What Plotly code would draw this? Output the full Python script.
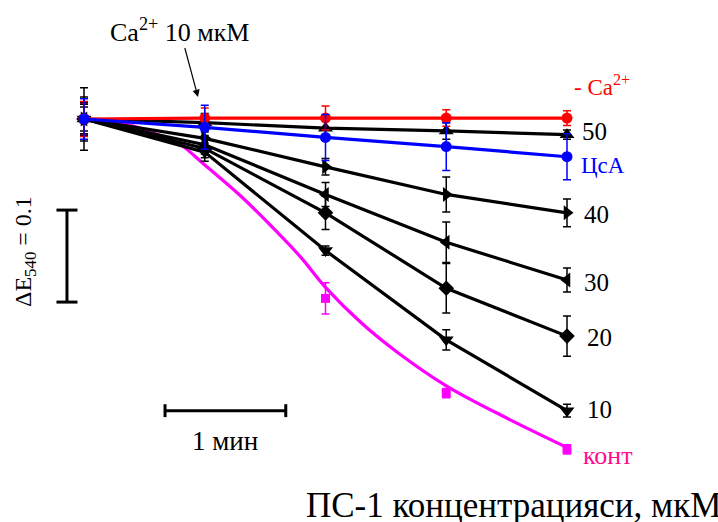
import plotly.graph_objects as go

# Time points (min) and absorbance change ΔE540 for each PS-1 concentration
time_min = [0, 1, 2, 3, 4]

no_ca = [0.0, 0.001, 0.001, 0.001, 0.001]
no_ca_err = [0.019, 0.011, 0.013, 0.009, 0.008]

c50 = [0.0, -0.004, -0.010, -0.013, -0.017]
c50_err = [0.034, 0.010, 0.013, 0.009, 0.005]

csa = [0.0, -0.009, -0.020, -0.030, -0.041]
csa_err = [0.022, 0.024, 0.025, 0.026, 0.025]

c40 = [0.0, -0.021, -0.052, -0.082, -0.102]
c40_err = [0.018, 0.010, 0.009, 0.019, 0.015]

c30 = [0.0, -0.028, -0.082, -0.134, -0.175]
c30_err = [0.013, 0.010, 0.013, 0.022, 0.013]

c20 = [0.0, -0.032, -0.102, -0.184, -0.236]
c20_err = [0.016, 0.010, 0.018, 0.027, 0.022]

c10 = [0.0, -0.036, -0.143, -0.240, -0.317]
c10_err = [0.024, 0.010, 0.005, 0.011, 0.007]

# control: measured points and the fitted smooth curve
control_t = [0, 2, 3, 4]
control = [0.0, -0.195, -0.298, -0.359]
control_err = [0.017, 0.017, 0.005, 0.005]

control_fit_t = [0, 0.3, 0.63, 0.8, 1.0, 1.3, 1.6, 1.8, 2.0, 2.3, 2.6, 3.0, 3.5, 4.0]
control_fit = [0.0, -0.004, -0.018, -0.028, -0.050, -0.084, -0.123, -0.151,
               -0.183, -0.222, -0.254, -0.290, -0.325, -0.357]

SERIF = "Liberation Serif, Times New Roman, serif"
BLACK = "#000000"
RED = "#FF0000"
BLUE = "#0000FF"
MAGENTA = "#FF00FF"
PINK = "#FF0A8C"

fig = go.Figure()


def add_series(x, y, err, color, symbol, line=True, size=10):
    fig.add_trace(go.Scatter(
        x=x, y=y,
        mode="lines+markers" if line else "markers",
        line=dict(color=color, width=3.2),
        marker=dict(symbol=symbol, size=size, color=color),
        error_y=dict(type="data", array=err, visible=True,
                     color=color, thickness=1.5, width=4),
        showlegend=False,
    ))


# control fit curve
fig.add_trace(go.Scatter(
    x=control_fit_t, y=control_fit, mode="lines",
    line=dict(color=MAGENTA, width=3.2, shape="spline", smoothing=1.0),
    showlegend=False,
))
add_series(control_t, control, control_err, MAGENTA, "square", line=False, size=9)
add_series(time_min, c10, c10_err, BLACK, "triangle-down", size=13)
add_series(time_min, c20, c20_err, BLACK, "diamond", size=12)
add_series(time_min, c30, c30_err, BLACK, "triangle-left", size=13)
add_series(time_min, c40, c40_err, BLACK, "triangle-right", size=13)
add_series(time_min, c50, c50_err, BLACK, "triangle-up", size=13)
add_series(time_min, no_ca, no_ca_err, RED, "circle", size=11)
add_series(time_min, csa, csa_err, BLUE, "circle", size=11)

# end-of-curve labels
labels = [
    ("- Ca<sup>2+</sup>", no_ca[-1], RED, 5, 33, 23),
    ("50", c50[-1], BLACK, 13, 3, 25),
    ("ЦсА", csa[-1], BLUE, 12, -9, 23),
    ("40", c40[-1], BLACK, 15, -2, 25),
    ("30", c30[-1], BLACK, 15, -2, 25),
    ("20", c20[-1], BLACK, 18, -1, 25),
    ("10", c10[-1], BLACK, 18, 1, 25),
    ("конт", control[-1], PINK, 14, -6, 26),
]
for text, yv, color, dx, dy, fs in labels:
    fig.add_annotation(x=time_min[-1], y=yv, xref="x", yref="y", text=text,
                       showarrow=False, xanchor="left", yanchor="middle",
                       xshift=dx, yshift=dy,
                       font=dict(family=SERIF, size=fs, color=color))

# Ca2+ addition marker
fig.add_annotation(x=0.944, y=0.0239, xref="x", yref="y",
                   text="Ca<sup>2+</sup> 10 мкМ", showarrow=True,
                   ax=-18, ay=-67, arrowhead=2, arrowsize=1.2, arrowwidth=1.2,
                   arrowcolor=BLACK, standoff=0,
                   font=dict(family=SERIF, size=26, color=BLACK))

# vertical scale bar: ΔE540 = 0.1
bar_x = -0.141
bar_top = -0.099
bar_len = 0.1
cap_half = 0.087
fig.add_shape(type="line", x0=bar_x, x1=bar_x, y0=bar_top, y1=bar_top - bar_len,
              xref="x", yref="y", line=dict(color=BLACK, width=3))
for yy in (bar_top, bar_top - bar_len):
    fig.add_shape(type="line", x0=bar_x - cap_half, x1=bar_x + cap_half, y0=yy, y1=yy,
                  xref="x", yref="y", line=dict(color=BLACK, width=3))
fig.add_annotation(x=-0.489, y=-0.1435, xref="x", yref="y",
                   text="ΔE<sub>540</sub> = 0.1", textangle=-90, showarrow=False,
                   xanchor="center", yanchor="middle",
                   font=dict(family=SERIF, size=24, color=BLACK))

# horizontal scale bar: 1 min
t0 = 0.671
t_len = 1.0
hbar_y = -0.317
cap_dy = 0.007
fig.add_shape(type="line", x0=t0, x1=t0 + t_len, y0=hbar_y, y1=hbar_y,
              xref="x", yref="y", line=dict(color=BLACK, width=3))
for xx in (t0, t0 + t_len):
    fig.add_shape(type="line", x0=xx, x1=xx, y0=hbar_y - cap_dy, y1=hbar_y + cap_dy,
                  xref="x", yref="y", line=dict(color=BLACK, width=3))
fig.add_annotation(x=t0 + t_len / 2, y=-0.350, xref="x", yref="y",
                   text="1 мин", showarrow=False, xanchor="center", yanchor="middle",
                   font=dict(family=SERIF, size=27, color=BLACK))

# bottom caption
fig.add_annotation(x=304 / 718, y=1 - 505 / 522, xref="paper", yref="paper",
                   text="ПС-1 концентрацияси, мкМ", showarrow=False,
                   xanchor="left", yanchor="middle",
                   font=dict(family=SERIF, size=35, color=BLACK))

fig.update_xaxes(range=[-84 / 120.75, (718 - 84) / 120.75], visible=False, fixedrange=True)
fig.update_yaxes(range=[-(522 - 119) / 920, 119 / 920], visible=False, fixedrange=True)
fig.update_layout(
    width=718, height=522,
    margin=dict(l=0, r=0, t=0, b=0),
    paper_bgcolor="white", plot_bgcolor="white",
)

fig.write_html("out.html")
